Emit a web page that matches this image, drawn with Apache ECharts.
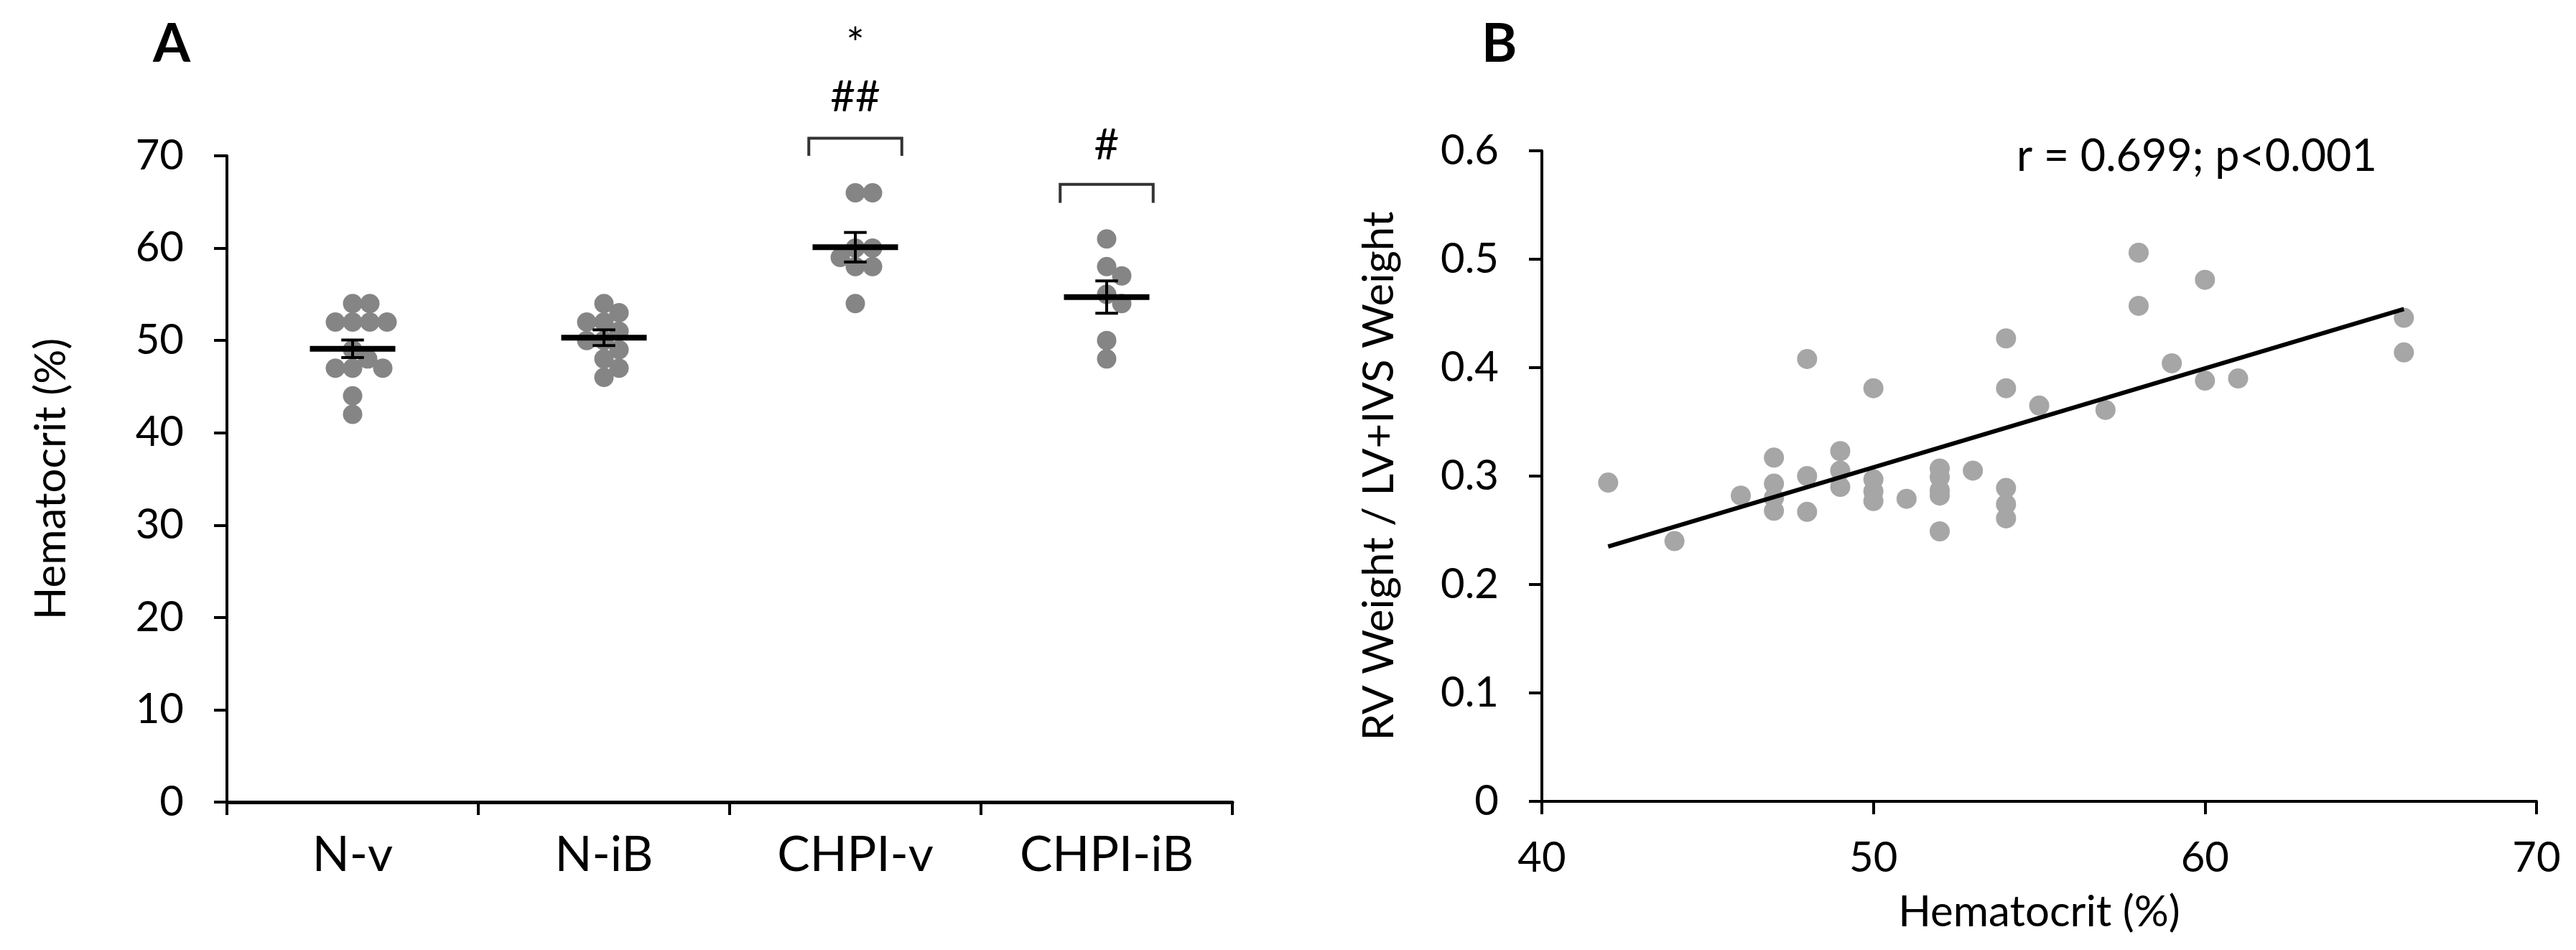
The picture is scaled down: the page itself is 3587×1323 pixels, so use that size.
<!DOCTYPE html>
<html>
<head>
    <meta charset="utf-8">
    <title>Hematocrit</title>
    <script src="https://cdn.jsdelivr.net/npm/echarts@6.0.0/dist/echarts.min.js"></script>
    <style>
        html, body { margin: 0; padding: 0; background: #fff; }
        #chart { width: 3587px; height: 1323px; }
    </style>
</head>
<body>
<div id="chart"></div>
<script type="text/javascript">
    // ---- panel A: hematocrit per group ----
    var groups = ['N-v', 'N-iB', 'CHPI-v', 'CHPI-iB'];
    var nvValues = [54, 54, 52, 52, 52, 52, 49, 48, 47, 47, 47, 44, 42];
    var nibValues = [54, 53, 52, 52, 51, 50, 50, 49, 48, 47, 46];
    var chpivValues = [66, 66, 60, 60, 59, 58, 58, 54];
    var chpibValues = [61, 58, 57, 55, 54, 50, 48];
    var groupMeans = [49.1, 50.3, 60.1, 54.7];
    var groupSems = [0.95, 0.85, 1.6, 1.75];

    // significance marks above the groups
    var sigText = ['*', '##', '#'];
    var sigGroup = [2, 2, 3];
    var sigLevel = [82.0, 76.3, 71.1];
    var bracketGroup = [2, 3];
    var bracketTop = [71.9, 66.9];
    var bracketBottom = [70.0, 64.9];

    // ---- panel B: hematocrit vs RV / (LV+IVS) ----
    var hctX = [42, 44, 46, 47, 47, 47, 47, 48, 48, 48, 49, 49, 49, 50, 50, 50, 50, 51, 52, 52,
        52, 52, 52, 53, 54, 54, 54, 54, 54, 55, 57, 58, 58, 59, 60, 60, 61, 66, 66];
    var rvRatio = [0.294, 0.240, 0.282, 0.317, 0.293, 0.280, 0.268, 0.408, 0.300, 0.267, 0.323, 0.305, 0.290,
        0.381, 0.297, 0.286, 0.277, 0.279, 0.307, 0.299, 0.287, 0.282, 0.249, 0.305, 0.427, 0.381,
        0.289, 0.274, 0.261, 0.365, 0.361, 0.506, 0.457, 0.404, 0.481, 0.388, 0.390, 0.446, 0.414];
    var fitX = [42, 66];
    var fitY = [0.235, 0.454];
    var statText = 'r = 0.699; p<0.001';

    var FONT = 'Lato, "Open Sans", sans-serif';
    var dotA = '#858585';
    var dotB = '#a6a6a6';

    // simple beeswarm: push points sideways (pixels) until they stop overlapping
    function swarm(values, pxPerUnit, diameter) {
        var placed = [];
        return values.map(function (v) {
            var y = v * pxPerUnit;
            for (var k = 0; k < 200; k++) {
                var cands = k === 0 ? [0] : [k * 3, -k * 3];
                for (var c = 0; c < cands.length; c++) {
                    var ok = placed.every(function (p) {
                        var dx = p[0] - cands[c], dy = p[1] - y;
                        return dx * dx + dy * dy >= diameter * diameter;
                    });
                    if (ok) {
                        placed.push([cands[c], y]);
                        return cands[c];
                    }
                }
            }
            return 0;
        });
    }

    var pxPerUnitA = 900 / 70;
    var groupValues = [nvValues, nibValues, chpivValues, chpibValues];
    var dotsA = [];
    groupValues.forEach(function (vals, gi) {
        var offs = swarm(vals, pxPerUnitA, 24);
        vals.forEach(function (v, i) {
            dotsA.push({value: [gi, v], symbolOffset: [offs[i], 0]});
        });
    });

    var meanData = groups.map(function (g, i) {
        return [i, groupMeans[i], groupSems[i]];
    });
    var bracketData = bracketGroup.map(function (g, i) {
        return [g, bracketTop[i], bracketBottom[i]];
    });
    var sigData = sigText.map(function (t, i) {
        return [sigGroup[i], sigLevel[i], t];
    });
    var scatterB = hctX.map(function (x, i) {
        return [x, rvRatio[i]];
    });
    var fitData = fitX.map(function (x, i) {
        return [x, fitY[i]];
    });

    var axisLineStyle = {color: '#000', width: 4};
    var tickStyle = {show: true, length: 18, lineStyle: {color: '#000', width: 4}};

    var myChart = echarts.init(document.getElementById('chart'), null, {renderer: 'canvas'});
    myChart.setOption({
        animation: false,
        backgroundColor: '#fff',
        textStyle: {fontFamily: FONT},
        grid: [
            {left: 316, top: 217, width: 1400, height: 900},
            {left: 2147, top: 210, width: 1385, height: 906}
        ],
        xAxis: [
            {
                gridIndex: 0, type: 'category', data: groups,
                axisLine: {lineStyle: {color: '#000', width: 5}},
                axisTick: tickStyle,
                axisLabel: {fontSize: 68, color: '#000', margin: 40, fontFamily: FONT},
                splitLine: {show: false}
            },
            {
                gridIndex: 1, type: 'value', min: 40, max: 70, interval: 10,
                axisLine: {show: true, lineStyle: axisLineStyle},
                axisTick: tickStyle,
                axisLabel: {fontSize: 58, color: '#000', margin: 50, fontFamily: FONT},
                splitLine: {show: false},
                name: 'Hematocrit (%)', nameLocation: 'middle', nameGap: 125,
                nameTextStyle: {fontSize: 60, color: '#000', fontFamily: FONT}
            }
        ],
        yAxis: [
            {
                gridIndex: 0, type: 'value', min: 0, max: 70, interval: 10,
                axisLine: {show: true, lineStyle: axisLineStyle},
                axisTick: tickStyle,
                axisLabel: {fontSize: 58, color: '#000', margin: 60, fontFamily: FONT},
                splitLine: {show: false},
                name: 'Hematocrit (%)', nameLocation: 'middle', nameGap: 214,
                nameTextStyle: {fontSize: 60, color: '#000', fontFamily: FONT}
            },
            {
                gridIndex: 1, type: 'value', min: 0, max: 0.6, interval: 0.1,
                axisLine: {show: true, lineStyle: axisLineStyle},
                axisTick: tickStyle,
                axisLabel: {fontSize: 58, color: '#000', margin: 60, fontFamily: FONT},
                splitLine: {show: false},
                name: 'RV Weight / LV+IVS Weight', nameLocation: 'middle', nameGap: 196,
                nameTextStyle: {fontSize: 60, color: '#000', fontFamily: FONT}
            }
        ],
        graphic: [
            {type: 'text', left: 213, top: 24,
                style: {text: 'A', fontSize: 75, fontWeight: 'bold', fill: '#000', fontFamily: FONT}},
            {type: 'text', left: 2063, top: 24,
                style: {text: 'B', fontSize: 75, fontWeight: 'bold', fill: '#000', fontFamily: FONT}},
            {type: 'text', left: 2808, top: 188,
                style: {text: statText, fontSize: 61, fill: '#000', fontFamily: FONT}}
        ],
        series: [
            {
                type: 'scatter', xAxisIndex: 0, yAxisIndex: 0,
                symbolSize: 27, itemStyle: {color: dotA, opacity: 1},
                data: dotsA, z: 2
            },
            {
                type: 'custom', xAxisIndex: 0, yAxisIndex: 0, z: 5,
                data: meanData,
                renderItem: function (params, api) {
                    var g = api.value(0), m = api.value(1), s = api.value(2);
                    var c = api.coord([g, m]);
                    var hi = api.coord([g, m + s]);
                    var lo = api.coord([g, m - s]);
                    var halfBand = api.size([1, 0])[0] / 2;
                    var half = halfBand * 0.34;
                    var cap = halfBand * 0.09;
                    var ls = {stroke: '#000', lineWidth: 4};
                    return {
                        type: 'group',
                        children: [
                            {type: 'line', shape: {x1: c[0] - half, y1: c[1], x2: c[0] + half, y2: c[1]},
                                style: {stroke: '#000', lineWidth: 8}},
                            {type: 'line', shape: {x1: c[0], y1: hi[1], x2: c[0], y2: lo[1]}, style: ls},
                            {type: 'line', shape: {x1: c[0] - cap, y1: hi[1], x2: c[0] + cap, y2: hi[1]}, style: ls},
                            {type: 'line', shape: {x1: c[0] - cap, y1: lo[1], x2: c[0] + cap, y2: lo[1]}, style: ls}
                        ]
                    };
                }
            },
            {
                type: 'custom', xAxisIndex: 0, yAxisIndex: 0, clip: false, z: 5,
                data: bracketData,
                renderItem: function (params, api) {
                    var g = api.value(0);
                    var top = api.coord([g, api.value(1)]);
                    var bot = api.coord([g, api.value(2)]);
                    var half = api.size([1, 0])[0] / 2 * 0.37;
                    return {
                        type: 'polyline',
                        shape: {points: [[top[0] - half, bot[1]], [top[0] - half, top[1]],
                            [top[0] + half, top[1]], [top[0] + half, bot[1]]]},
                        style: {stroke: '#333', lineWidth: 4, fill: null}
                    };
                }
            },
            {
                type: 'custom', xAxisIndex: 0, yAxisIndex: 0, clip: false, z: 5,
                data: sigData,
                renderItem: function (params, api) {
                    var p = api.coord([api.value(0), api.value(1)]);
                    return {
                        type: 'text', x: p[0], y: p[1],
                        style: {text: sigData[params.dataIndex][2], fontSize: 60, fontFamily: FONT,
                            fill: '#000', align: 'center', verticalAlign: 'middle'}
                    };
                }
            },
            {
                type: 'scatter', xAxisIndex: 1, yAxisIndex: 1,
                symbolSize: 28, itemStyle: {color: dotB, opacity: 1},
                data: scatterB, z: 2
            },
            {
                type: 'line', xAxisIndex: 1, yAxisIndex: 1,
                data: fitData, symbol: 'none',
                lineStyle: {color: '#000', width: 6}, z: 3
            }
        ]
    });
</script>
</body>
</html>
